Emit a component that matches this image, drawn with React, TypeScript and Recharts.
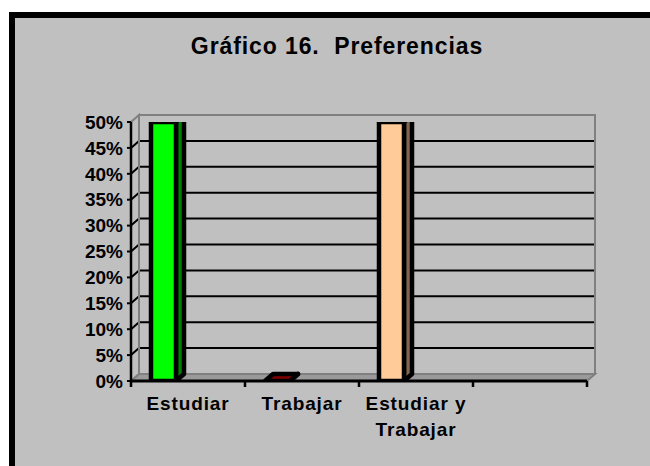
import React from 'react';
import { BarChart, Bar, XAxis, YAxis, CartesianGrid, ReferenceArea } from 'recharts';

// ---- data ----
const categories = ['Estudiar', 'Trabajar', 'Estudiar y Trabajar', ''];
const preferencias: (number | null)[] = [0.5, 0, 0.5, null];
const frontColors = ['#00FF00', '#800000', '#FFCC99', '#C0C0C0'];
const sideColors = ['#008000', '#400000', '#806650', '#808080'];
const yTicks = [0, 0.05, 0.1, 0.15, 0.2, 0.25, 0.3, 0.35, 0.4, 0.45, 0.5];
const boundaryTicks = [0, 1, 2, 3, 4];
const title = 'Gráfico 16.  Preferencias';

const data = categories.map((name, i) => ({ name, value: preferencias[i], idx: i }));

// ---- style ----
const FONT = '"Liberation Sans", Arial, Helvetica, sans-serif';
const DX = 8;
const DY = 7;
const BAR_SHIFT = -25;

function Box3D(props: any) {
  const { x, y, width, height, index, payload } = props;
  if (!payload || payload.value == null || !Number.isFinite(y)) return null;
  const fx = x + BAR_SHIFT;
  const fy = y;
  const w = width;
  const h = Math.max(0, height || 0);
  const front = frontColors[index];
  const side = sideColors[index];
  return (
    <g stroke="#000" strokeWidth={4.5} strokeLinejoin="round">
      <polygon
        points={`${fx + w},${fy} ${fx + w + DX},${fy - DY} ${fx + w + DX},${fy + h - DY} ${fx + w},${fy + h}`}
        fill={side}
      />
      <polygon
        points={`${fx},${fy} ${fx + DX},${fy - DY} ${fx + w + DX},${fy - DY} ${fx + w},${fy}`}
        fill={front}
      />
      {h > 0 && <rect x={fx} y={fy} width={w} height={h} fill={front} />}
    </g>
  );
}

function Walls(props: any) {
  const { x, y, width, height } = props;
  const b = y + height;
  return (
    <g>
      <polygon
        points={`${x},${b} ${x + DX},${b - DY} ${x + width + DX},${b - DY} ${x + width},${b}`}
        fill="#9A9A9A"
        stroke="#808080"
        strokeWidth={2}
      />
      <polygon
        points={`${x},${y} ${x + DX},${y - DY} ${x + DX},${b - DY} ${x},${b}`}
        fill="none"
        stroke="#808080"
        strokeWidth={2}
      />
      <rect x={x + DX} y={y - DY} width={width} height={height} fill="none" stroke="#808080" strokeWidth={2} />
    </g>
  );
}

function GridLine(props: any) {
  const { x1, x2, y1, y, height } = props;
  if (typeof y === 'number' && typeof height === 'number') {
    if (Math.abs(y1 - y) < 1 || Math.abs(y1 - (y + height)) < 1) return <g />;
  }
  return (
    <polyline
      points={`${x1},${y1} ${x1 + DX},${y1 - DY} ${x2 + DX},${y1 - DY}`}
      fill="none"
      stroke="#000"
      strokeWidth={2}
    />
  );
}

function wrap(label: string): string[] {
  const words = label.split(' ');
  const lines: string[] = [];
  let cur = '';
  for (const w of words) {
    const next = cur ? cur + ' ' + w : w;
    if (next.length > 10 && cur) {
      lines.push(cur);
      cur = w;
    } else cur = next;
  }
  if (cur) lines.push(cur);
  return lines;
}

function CatTick(props: any) {
  const { x, y, payload } = props;
  const lines = wrap(String(payload.value ?? ''));
  return (
    <text
      x={x}
      y={y + 28}
      textAnchor="middle"
      fill="#000"
      fontFamily={FONT}
      fontWeight={700}
      fontSize={19}
      letterSpacing={0.9}
    >
      {lines.map((l, i) => (
        <tspan key={i} x={x} dy={i === 0 ? 0 : 26}>
          {l}
        </tspan>
      ))}
    </text>
  );
}

function EmptyTick() {
  return <g />;
}

export default function App() {
  return (
    <div style={{ position: 'absolute', left: 0, top: 0, width: 650, height: 466, overflow: 'hidden', background: '#fff' }}>
      <div
        style={{
          position: 'absolute',
          left: 9,
          top: 12,
          width: 641,
          height: 454,
          boxSizing: 'border-box',
          background: '#C0C0C0',
          borderTop: '6px solid #000',
          borderLeft: '6px solid #000',
        }}
      />
      <svg width={650} height={466} style={{ position: 'absolute', left: 0, top: 0 }}>
        <text
          x={337}
          y={54}
          textAnchor="middle"
          fontFamily={FONT}
          fontWeight={700}
          fontSize={23}
          letterSpacing={0.9}
          fill="#000"
          style={{ whiteSpace: 'pre' }}
          xmlSpace="preserve"
        >
          {title}
        </text>
      </svg>
      <div style={{ position: 'absolute', left: 0, top: 0 }}>
        <BarChart width={650} height={466} data={data} margin={{ top: 122, right: 63, bottom: 24, left: 91 }}>
          <ReferenceArea xAxisId="cat" y1={0} y2={0.5} shape={(p: any) => <Walls {...p} />} ifOverflow="visible" />
          <CartesianGrid xAxisId="cat" vertical={false} horizontal={(p: any) => <GridLine {...p} />} />
          <XAxis
            xAxisId="bound"
            type="number"
            dataKey="idx"
            domain={[0, 4]}
            ticks={boundaryTicks}
            allowDataOverflow
            height={1}
            tick={<EmptyTick />}
            tickSize={6}
            axisLine={{ stroke: '#000', strokeWidth: 3 }}
            tickLine={{ stroke: '#000', strokeWidth: 2.5 }}
          />
          <XAxis
            xAxisId="cat"
            dataKey="name"
            height={60}
            interval={0}
            axisLine={false}
            tickLine={false}
            tickSize={0}
            tickMargin={0}
            tick={<CatTick />}
          />
          <YAxis
            domain={[0, 0.5]}
            ticks={yTicks}
            interval={0}
            allowDataOverflow
            width={40}
            tickSize={4}
            tickMargin={4}
            tickFormatter={(v: number) => `${Math.round(v * 100)}%`}
            axisLine={{ stroke: '#000', strokeWidth: 2.5 }}
            tickLine={{ stroke: '#000', strokeWidth: 2 }}
            tick={{ fill: '#000', fontSize: 19, fontWeight: 700, fontFamily: FONT }}
          />
          <Bar xAxisId="cat" dataKey="value" barSize={25} shape={Box3D} isAnimationActive={false} />
        </BarChart>
      </div>
    </div>
  );
}
